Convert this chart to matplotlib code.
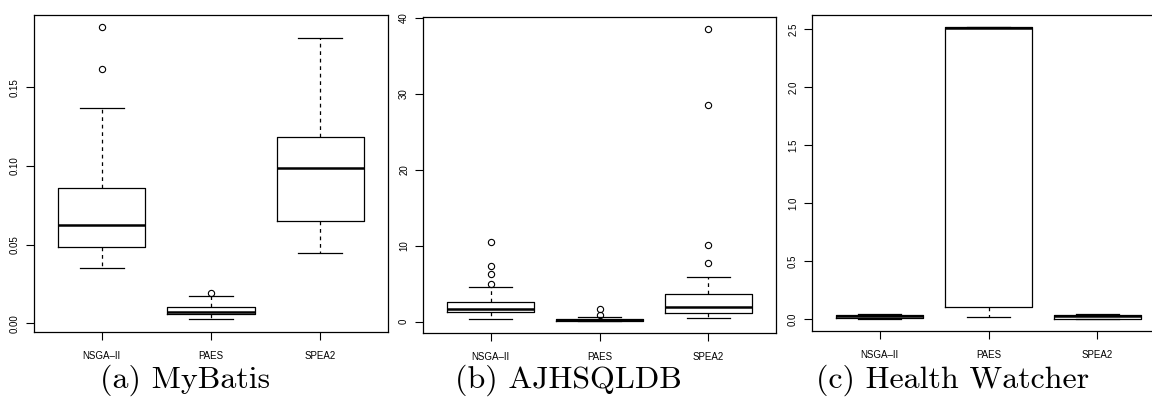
import matplotlib
matplotlib.use("Agg")
import matplotlib.pyplot as plt

plt.rcParams['font.family'] = ['Liberation Sans', 'DejaVu Sans']

algorithms = ["NSGA\u2013II", "PAES", "SPEA2"]

# five-number summaries per algorithm: whislo, q1, med, q3, whishi
mybatis_stats = [
    [0.0354, 0.0483, 0.0623, 0.0858, 0.1367],
    [0.0025, 0.0059, 0.0074, 0.0106, 0.0172],
    [0.0449, 0.0652, 0.0987, 0.1186, 0.1812],
]
mybatis_fliers = [[0.1886, 0.1615], [0.0195], []]

ajhsqldb_stats = [
    [0.36, 1.32, 1.67, 2.63, 4.53],
    [0.02, 0.13, 0.20, 0.32, 0.66],
    [0.49, 1.19, 1.94, 3.69, 5.89],
]
ajhsqldb_fliers = [[10.54, 7.38, 6.24, 5.0], [1.67, 0.84], [38.56, 28.55, 10.14, 7.77]]

hw_stats = [
    [0.000, 0.012, 0.028, 0.038, 0.045],
    [0.017, 0.103, 2.507, 2.515, 2.520],
    [0.000, 0.005, 0.030, 0.040, 0.045],
]
hw_fliers = [[], [], []]

captions = ["(a) MyBatis", "(b) AJHSQLDB", "(c) Health Watcher"]
yticks = [[0.0, 0.05, 0.10, 0.15], [0, 10, 20, 30, 40], [0.0, 0.5, 1.0, 1.5, 2.0, 2.5]]
ytick_fmt = ["{:.2f}", "{:.0f}", "{:.1f}"]
ylims = [(-0.0055, 0.196), (-1.5, 40.1), (-0.10, 2.62)]

fig = plt.figure(figsize=(11.52, 4.0), dpi=100)
positions = [
    [34 / 1152, 68 / 400, 354 / 1152, 317 / 400],
    [423 / 1152, 67 / 400, 353 / 1152, 316 / 400],
    [812 / 1152, 69 / 400, 353 / 1152, 316 / 400],
]
caption_x = [185 / 1152, 568 / 1152, 953 / 1152]


def build(stats, fliers):
    out = []
    for s, f in zip(stats, fliers):
        out.append(dict(whislo=s[0], q1=s[1], med=s[2], q3=s[3], whishi=s[4], fliers=f))
    return out


panels = [(mybatis_stats, mybatis_fliers), (ajhsqldb_stats, ajhsqldb_fliers), (hw_stats, hw_fliers)]

for i, (stats, fliers) in enumerate(panels):
    ax = fig.add_axes(positions[i])
    ax.bxp(build(stats, fliers), positions=[1, 2, 3], widths=0.8, capwidths=0.4,
           boxprops=dict(color='black', linewidth=0.9),
           medianprops=dict(color='black', linewidth=1.8, solid_capstyle='butt'),
           whiskerprops=dict(color='black', linewidth=0.9, linestyle=(0, (3, 3))),
           capprops=dict(color='black', linewidth=0.9),
           flierprops=dict(marker='o', markersize=4.5, markerfacecolor='none',
                           markeredgecolor='black', markeredgewidth=0.8))
    ax.set_xlim(0.38, 3.62)
    ax.set_ylim(*ylims[i])
    ax.set_xticks([1, 2, 3])
    ax.set_xticklabels(algorithms, fontsize=7)
    ax.set_yticks(yticks[i])
    ax.set_yticklabels([ytick_fmt[i].format(v) for v in yticks[i]], fontsize=7,
                       rotation=90, va='center')
    ax.tick_params(axis='x', length=6, width=0.8, pad=8)
    ax.tick_params(axis='y', length=6, width=0.8, pad=4)
    for sp in ax.spines.values():
        sp.set_linewidth(0.9)
    fig.text(caption_x[i], 0.05, captions[i], family='cmr10',
             fontsize=23, ha='center', va='center')

fig.savefig("out.png", dpi=100)
